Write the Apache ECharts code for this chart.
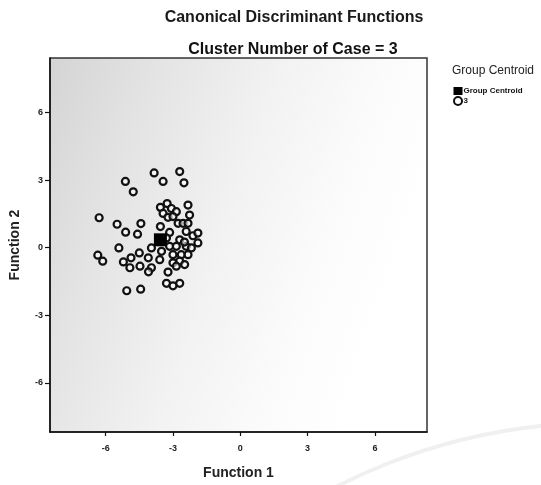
<!DOCTYPE html>
<html>
<head>
<meta charset="utf-8">
<script src="https://cdn.jsdelivr.net/npm/echarts@6/dist/echarts.min.js"></script>
<style>
html,body{margin:0;padding:0;background:#fff;}
#c{width:541px;height:485px;}
</style>
</head>
<body>
<div id="c"></div>
<script>
// Case scores on the two discriminant functions (cluster 3)
const caseF1 = [-3.84,-2.70,-5.12,-3.44,-2.51,-4.77,-6.29,-5.49,-4.43,-5.11,-4.58,-5.41,-6.35,-6.13,-5.21,-4.87,-4.92,-5.06,-4.44,
  -3.56,-3.26,-3.07,-2.85,-2.33,-3.44,-3.22,-3.00,-2.77,-2.55,-2.33,-2.26,-3.56,-3.15,-2.41,-2.11,-1.89,-1.89,-2.70,
  -3.96,-3.51,-3.15,-2.85,-2.41,-2.18,-4.50,-4.10,-3.59,-3.00,-2.63,-2.33,-2.70,-3.00,-2.48,-4.47,-3.96,-3.22,-2.85,
  -3.29,-3.00,-2.70,-4.09,-2.49,-3.29];
const caseF2 = [3.32,3.38,2.94,2.94,2.88,2.48,1.33,1.04,1.07,0.69,0.60,-0.01,-0.33,-0.60,-0.63,-0.45,-0.89,-1.91,-1.84,
  1.79,1.96,1.74,1.60,1.89,1.52,1.35,1.38,1.08,1.08,1.08,1.45,0.94,0.68,0.72,0.53,0.65,0.21,0.35,
  -0.01,-0.16,0.06,0.06,0.06,-0.01,-0.23,-0.45,-0.53,-0.31,-0.31,-0.31,-0.60,-0.67,-0.75,-0.82,-0.89,-1.08,-0.82,
  -1.58,-1.69,-1.58,-1.07,0.25,0.43];
const centroidF1 = [-3.56];
const centroidF2 = [0.35];
const xTicks = [-6, -3, 0, 3, 6];
const yTicks = [-6, -3, 0, 3, 6];
const mainTitle = 'Canonical Discriminant Functions';
const subTitle = 'Cluster Number of Case = 3';
const legendTitle = 'Group Centroid';
const seriesNames = ['Group Centroid', '3'];

const chart = echarts.init(document.getElementById('c'), null, {renderer: 'canvas'});
const FONT = '"Liberation Sans", Arial, sans-serif';

const option = {
  backgroundColor: '#fff',
  animation: false,
  graphic: [
    {type: 'circle', silent: true, z: -10, shape: {cx: 600, cy: 1000, r: 577},
     style: {fill: 'none', stroke: '#f0f0f0', lineWidth: 4}}
  ],
  title: [
    {text: mainTitle, left: 289, top: 5, textAlign: 'center',
     textStyle: {fontFamily: FONT, fontSize: 16, fontWeight: 'bold', color: '#1a1a1a'}},
    {text: subTitle, left: 288, top: 37, textAlign: 'center',
     textStyle: {fontFamily: FONT, fontSize: 16, fontWeight: 'bold', color: '#111'}},
    {text: legendTitle, left: 447, top: 60,
     textStyle: {fontFamily: FONT, fontSize: 12, fontWeight: 'normal', color: '#222'}}
  ],
  legend: {
    left: 448, top: 82, orient: 'vertical', itemGap: 1, itemWidth: 9, itemHeight: 8,
    textStyle: {fontFamily: FONT, fontSize: 8, fontWeight: 'bold', color: '#111', padding: [0,0,0,-4]},
    data: [{name: seriesNames[0], icon: 'rect'}, {name: seriesNames[1], icon: 'circle'}]
  },
  grid: {
    left: 48, top: 58, width: 379, height: 378,
    show: true, borderColor: '#333', borderWidth: 1.5,
    backgroundColor: {
      type: 'linear', x: 0, y: 0, x2: 1, y2: 0.35,
      colorStops: [
        {offset: 0, color: '#d4d4d4'},
        {offset: 0.25, color: '#e3e3e3'},
        {offset: 0.55, color: '#f2f2f2'},
        {offset: 0.8, color: '#fbfbfb'},
        {offset: 1, color: '#ffffff'}
      ]
    }
  },
  xAxis: {
    type: 'value', min: -8.48, max: 8.32,
    name: 'Function 1', nameLocation: 'middle', nameGap: 34,
    nameTextStyle: {fontFamily: FONT, fontSize: 14, fontWeight: 'bold', color: '#222'},
    axisLine: {show: true, onZero: false, lineStyle: {color: '#111', width: 1.5}},
    axisTick: {show: true, length: 4, customValues: xTicks, lineStyle: {color: '#111', width: 1.2}},
    axisLabel: {customValues: xTicks, fontFamily: FONT, fontSize: 9, fontWeight: 'bold', color: '#222', margin: 12},
    splitLine: {show: false}
  },
  yAxis: {
    type: 'value', min: -8.18, max: 8.42,
    name: 'Function 2', nameLocation: 'middle', nameGap: 28, nameRotate: 90,
    nameTextStyle: {fontFamily: FONT, fontSize: 14, fontWeight: 'bold', color: '#222'},
    axisLine: {show: true, onZero: false, lineStyle: {color: '#111', width: 1.5}},
    axisTick: {show: true, length: 5, customValues: yTicks, lineStyle: {color: '#111', width: 1.2}},
    axisLabel: {customValues: yTicks, fontFamily: FONT, fontSize: 9, fontWeight: 'bold', color: '#222', margin: 7},
    splitLine: {show: false}
  },
  series: [
    {
      name: seriesNames[0], type: 'scatter', symbol: 'rect', symbolSize: 13, z: 5,
      itemStyle: {color: '#000', opacity: 1},
      data: centroidF1.map((v, i) => [v, centroidF2[i]])
    },
    {
      name: seriesNames[1], type: 'scatter', symbol: 'circle', symbolSize: 7, z: 3,
      itemStyle: {color: 'rgba(255,255,255,0.55)', borderColor: '#111', borderWidth: 2.2, opacity: 1},
      data: caseF1.map((v, i) => [v, caseF2[i]])
    }
  ]
};
chart.setOption(option);
</script>
</body>
</html>
